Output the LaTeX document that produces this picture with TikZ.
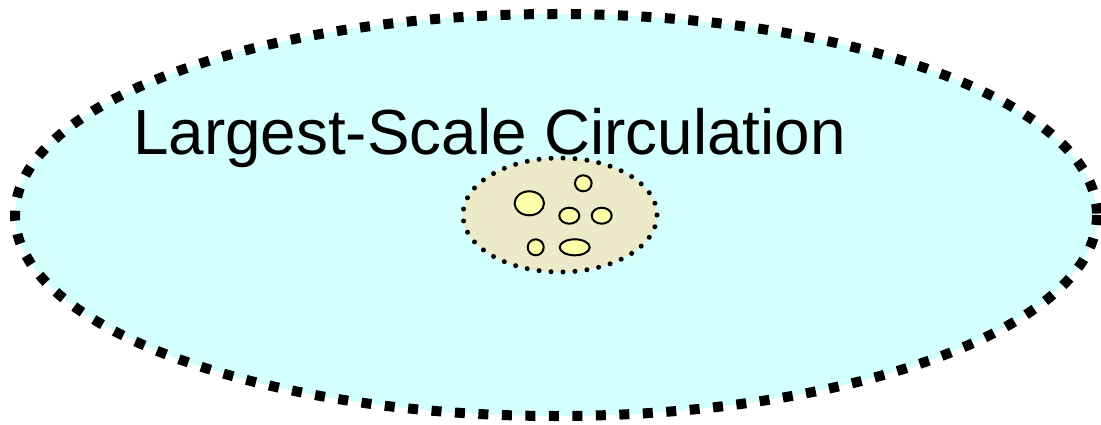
\documentclass[tikz,border=0pt]{standalone}
\usepackage{fontspec}
\setmainfont{Liberation Sans}
\usepackage{xcolor}
\definecolor{outerfill}{HTML}{D4FFFF}
\definecolor{innerfill}{HTML}{EDEACA}
\definecolor{eddy}{HTML}{FFFFAA}

\begin{document}
\begin{tikzpicture}[x=1pt,y=-1pt]
  \useasboundingbox (0,0) rectangle (1101,425);
  % Outer: largest-scale circulation
  \draw[fill=outerfill,line width=10pt,dash pattern=on 10pt off 13.5pt] (556,215) ellipse (541 and 201);
  \node[font=\fontsize{63.8}{70}\selectfont,anchor=base west,inner sep=0pt] (label) at (133,155) {Largest-Scale Circulation};

  % Inner region
  \draw[fill=innerfill,line width=5pt,line cap=round,dash pattern=on 0pt off 12pt] (560,215) ellipse (97 and 57);

  % Small eddies
  \draw[fill=eddy,line width=2pt] (529.3,203.3) ellipse (14.7 and 12);
  \draw[fill=eddy,line width=2pt] (583.3,183.3) ellipse (8.3 and 8);
  \draw[fill=eddy,line width=2pt] (569.3,215.7) ellipse (10 and 8);
  \draw[fill=eddy,line width=2pt] (601.7,215.7) ellipse (10 and 8);
  \draw[fill=eddy,line width=2pt] (535.7,247.3) ellipse (8 and 8);
  \draw[fill=eddy,line width=2pt] (574.7,247.3) ellipse (15 and 8);
\end{tikzpicture}
\end{document}
